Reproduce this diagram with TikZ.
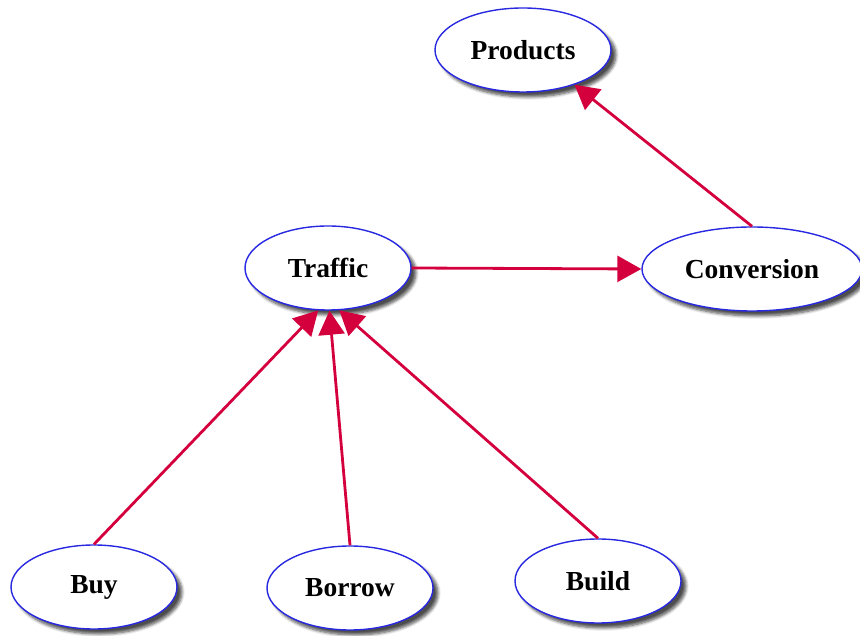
\documentclass[tikz,border=0pt]{standalone}
\usepackage{fontspec}
\setmainfont{Liberation Serif}
\usetikzlibrary{arrows.meta,shapes.geometric,shadows.blur}
\definecolor{edgered}{RGB}{212,0,62}
\definecolor{rimblue}{RGB}{40,40,225}
\tikzset{
  oval/.style={ellipse, draw=rimblue, line width=1.4pt, fill=white, inner sep=0pt,
    minimum height=84pt, font=\bfseries\fontsize{27.5}{31}\selectfont,
    blur shadow={shadow xshift=5pt, shadow yshift=-5pt, shadow blur radius=3pt,
      shadow blur steps=6, shadow opacity=70}},
  link/.style={draw=edgered, line width=2.8pt,
    -{Triangle[length=24pt,width=26pt]}}
}
\begin{document}
\begin{tikzpicture}[x=1pt,y=1pt]
\useasboundingbox (0,0) rectangle (860,635);
\node[oval, minimum width=176pt] (products)   at (523,585) {Products};
\node[oval, minimum width=166pt] (traffic)    at (328,367) {Traffic};
\node[oval, minimum width=220pt] (conversion) at (752,366) {Conversion};
\node[oval, minimum width=166pt] (buy)        at (94,48)   {Buy};
\node[oval, minimum width=166pt] (borrow)     at (350,47)  {Borrow};
\node[oval, minimum width=166pt] (build)      at (598,54)  {Build};

\draw[link] (conversion.north) -- (products.326);
\draw[link] (traffic.east) -- (conversion.west);
\draw[link] (buy.north) -- (traffic.257);
\draw[link] (borrow.north) -- (traffic.272);
\draw[link] (build.north) -- (traffic.285);
\end{tikzpicture}
\end{document}
